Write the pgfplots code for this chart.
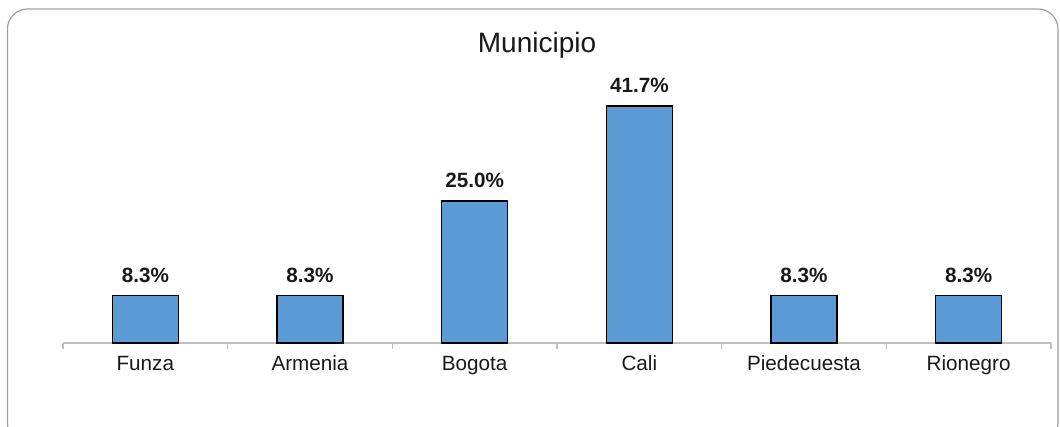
\documentclass[border=0pt]{standalone}
\usepackage{pgfplots}
\pgfplotsset{compat=1.18}
\usepackage{fontspec}
\setmainfont{Liberation Sans}
\definecolor{barblue}{HTML}{5B9BD5}
\definecolor{axisgray}{HTML}{BFBFBF}
\definecolor{framegray}{HTML}{A0A0A0}
\begin{document}
\begin{tikzpicture}
  % canvas = 1060 x 427 px, 1 px = 0.75pt
  \useasboundingbox (0,0) rectangle (795pt,320.25pt);
  \clip (0,0) rectangle (795pt,320.25pt);
  \draw[framegray, line width=0.9pt, rounded corners=15pt]
    (5.6pt,-12pt) rectangle (793.5pt,313.5pt);
  \node[font=\fontsize{21}{24}\selectfont, text=black!90] at (402.75pt,286.5pt) {Municipio};
  \begin{axis}[
    at={(47.25pt,63pt)}, anchor=south west,
    scale only axis,
    width=741pt, height=191.8pt,
    xmin=-0.5, xmax=5.5,
    ymin=0, ymax=45,
    axis x line=bottom,
    axis line style={-, axisgray, line width=1pt},
    hide y axis,
    xtick={0,...,5},
    xticklabels={Funza,Armenia,Bogota,Cali,Piedecuesta,Rionegro},
    major tick length=0pt,
    minor xtick={-0.5,0.5,...,5.5},
    minor tick length=4.5pt,
    tick align=outside,
    minor tick style={axisgray, line width=1pt},
    xticklabel style={font=\fontsize{15.5}{18}\selectfont, text=black!90,
      text height=11pt, text depth=3pt, yshift=-6pt},
    /pgf/number format/assume math mode=true,
    nodes near coords={\pgfmathprintnumber[fixed,precision=1,fixed zerofill]{\pgfplotspointmeta}\%},
    every node near coord/.append style={font=\bfseries\fontsize{15.5}{18}\selectfont, text=black!90, yshift=6pt},
    clip=false,
  ]
    \addplot[ybar, bar width=49.5pt, fill=barblue, draw=black, line width=1pt]
      coordinates {(0,8.3) (1,8.3) (2,25.0) (3,41.7) (4,8.3) (5,8.3)};
  \end{axis}
\end{tikzpicture}
\end{document}
